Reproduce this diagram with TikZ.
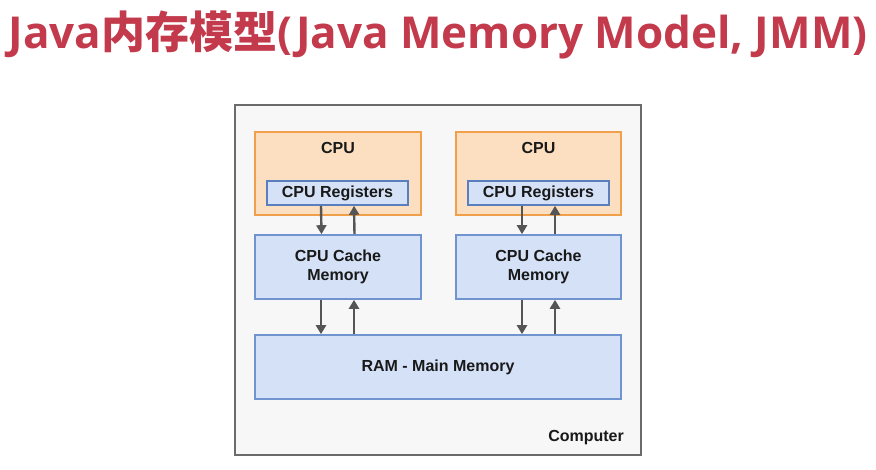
\documentclass[tikz,border=0pt]{standalone}
\usepackage{fontspec}
\setmainfont{Liberation Sans}
\newfontfamily\cjk{Noto Sans CJK SC}
\newfontfamily\titlefont{Open Sans}
\usepackage{tikz}
\usetikzlibrary{arrows.meta}
\definecolor{titlered}{HTML}{C23A4B}
\definecolor{cpufill}{HTML}{FCDFC0}
\definecolor{cpuline}{HTML}{F0A04A}
\definecolor{memfill}{HTML}{D4E1F7}
\definecolor{memline}{HTML}{6F94CF}
\definecolor{regline}{HTML}{5A7FBF}
\definecolor{boxline}{HTML}{6B6B6B}
\definecolor{arrgray}{HTML}{555555}
\tikzstyle{texto}=[inner sep=0pt,font=\fontsize{16}{19}\selectfont\bfseries,text=black!90]
\tikzstyle{cpubox}=[draw=cpuline,fill=cpufill,line width=1.8pt,inner sep=0pt]
\tikzstyle{membox}=[draw=memline,fill=memfill,line width=1.6pt,inner sep=0pt,align=center,font=\fontsize{16}{19}\selectfont\bfseries,text=black!90]
\tikzstyle{flecha}=[arrgray,line width=2.4pt,-{Triangle[width=10pt,length=9pt]}]
\begin{document}
\begin{tikzpicture}[x=1pt,y=-1pt]
    \useasboundingbox (0,0) rectangle (876,470);
    \node [inner sep=0pt,text=titlered,font=\fontsize{44}{50}\selectfont\bfseries] (title) at (438,35) {\titlefont Java{\cjk 内存模型}(Java Memory Model, JMM)};
    \node [draw=boxline,fill=black!3,line width=1.8pt,minimum width=406pt,minimum height=350pt] (computer) at (438,280) {};
    \node [texto,anchor=east] (complabel) at (624,438) {Computer};
    \node [cpubox,minimum width=166pt,minimum height=83pt] (cpuA) at (338,173.5) {};
    \node [cpubox,minimum width=165pt,minimum height=83pt] (cpuB) at (538.5,173.5) {};
    \node [texto] (cpuAlabel) at (338,148) {CPU};
    \node [texto] (cpuBlabel) at (538.5,148) {CPU};
    \node [membox,draw=regline,minimum width=141pt,minimum height=24pt] (regA) at (337.5,193) {CPU Registers};
    \node [membox,draw=regline,minimum width=141pt,minimum height=24pt] (regB) at (538.5,193) {CPU Registers};
    \node [membox,minimum width=166pt,minimum height=64pt] (cacheA) at (338,267) {CPU Cache\\Memory};
    \node [membox,minimum width=165pt,minimum height=64pt] (cacheB) at (538.5,267) {CPU Cache\\Memory};
    \node [membox,minimum width=366pt,minimum height=64pt] (ram) at (438,367) {RAM - Main Memory};
    % registers <-> cache
    \draw [flecha] ([xshift=-16.5pt]regA.south) -- ([xshift=-16.5pt]cacheA.north);
    \draw [flecha] ([xshift=16.5pt]cacheA.north) -- ([xshift=16.5pt]regA.south);
    \draw [flecha] ([xshift=-16.5pt]regB.south) -- ([xshift=-16.5pt]cacheB.north);
    \draw [flecha] ([xshift=16.5pt]cacheB.north) -- ([xshift=16.5pt]regB.south);
    % cache <-> ram
    \draw [flecha] ([xshift=-17pt]cacheA.south) -- ([xshift=-17pt]cacheA.south |- ram.north);
    \draw [flecha] ([xshift=16pt]cacheA.south |- ram.north) -- ([xshift=16pt]cacheA.south);
    \draw [flecha] ([xshift=-16.5pt]cacheB.south) -- ([xshift=-16.5pt]cacheB.south |- ram.north);
    \draw [flecha] ([xshift=16.5pt]cacheB.south |- ram.north) -- ([xshift=16.5pt]cacheB.south);
\end{tikzpicture}
\end{document}
